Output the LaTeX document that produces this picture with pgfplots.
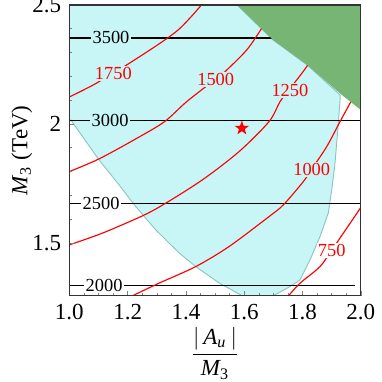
\documentclass[border=0pt]{standalone}
\usepackage{amsmath}
\usepackage{fontspec}
\setmainfont{Liberation Serif}
\usepackage{pgfplots}
\pgfplotsset{compat=1.18}

\definecolor{cyanfill}{RGB}{200,246,246}
\definecolor{cyanedge}{RGB}{140,196,196}
\definecolor{greenfill}{RGB}{119,181,116}

% filled five-pointed star
\pgfdeclareplotmark{fstar}{%
  \pgfpathmoveto{\pgfpointpolar{90}{\pgfplotmarksize}}%
  \pgfpathlineto{\pgfpointpolar{126}{0.4\pgfplotmarksize}}%
  \pgfpathlineto{\pgfpointpolar{162}{\pgfplotmarksize}}%
  \pgfpathlineto{\pgfpointpolar{198}{0.4\pgfplotmarksize}}%
  \pgfpathlineto{\pgfpointpolar{234}{\pgfplotmarksize}}%
  \pgfpathlineto{\pgfpointpolar{270}{0.4\pgfplotmarksize}}%
  \pgfpathlineto{\pgfpointpolar{306}{\pgfplotmarksize}}%
  \pgfpathlineto{\pgfpointpolar{342}{0.4\pgfplotmarksize}}%
  \pgfpathlineto{\pgfpointpolar{18}{\pgfplotmarksize}}%
  \pgfpathlineto{\pgfpointpolar{54}{0.4\pgfplotmarksize}}%
  \pgfpathclose
  \pgfusepathqfill}

\begin{document}
\begin{tikzpicture}
\begin{axis}[
  scale only axis,
  width=126.7pt, height=126.5pt,
  xmin=1, xmax=2, ymin=1.2773, ymax=2.5,
  xtick={1,1.2,1.4,1.6,1.8,2},
  ytick={1.5,2,2.5},
  minor x tick num=3, minor y tick num=4,
  tick pos=left, tick align=inside,
  major tick length=2.2pt, minor tick length=1.2pt,
  axis on top,
  axis line style={black!80, line width=0.5pt},
  xticklabel style={/pgf/number format/.cd,fixed,fixed zerofill,precision=1},
  /pgf/number format/assume math mode=true,
  xlabel={$\dfrac{|\,\textit{A}_{\textit{u}}\,|}{\textit{M}_{\text{3}}}$},
  ylabel={\textit{M}\textsubscript{3} (TeV)},
  xlabel style={at={(axis description cs:0.5,-0.197)}, anchor=center},
  ylabel style={at={(axis description cs:-0.163,0.5)}, anchor=center},
]
% allowed region
\addplot[fill=cyanfill, draw=cyanedge, line width=0.4pt] coordinates {
 (1.0,2.5) (1.5755,2.5) (1.699,2.353) (1.816,2.248) (1.929,2.1218)
 (1.929,2.1008) (1.9231,2.0042) (1.9118,1.8361) (1.9005,1.7227)
 (1.8888,1.626) (1.8603,1.5265) (1.826,1.4286) (1.7917,1.3445)
 (1.7574,1.3164) (1.699,1.2773) (1.5937,1.2773) (1.5137,1.3319)
 (1.4338,1.4004) (1.3765,1.458) (1.2965,1.5546) (1.2279,1.6525)
 (1.1706,1.7437) (1.1019,1.8487) (1.0048,2.0168) (1.0,2.013)
} -- cycle;

% black horizontal contours
\addplot[black, line width=0.5pt] coordinates {(1.0,2.3613) (1.75,2.3613)};
\addplot[black, line width=0.5pt] coordinates {(1.0,2.0126) (2.0,2.0126)};
\addplot[black, line width=0.5pt] coordinates {(1.0,1.6639) (2.0,1.6639)};
\addplot[black, line width=0.5pt] coordinates {(1.0,1.3193) (1.9804,1.3193)};

% red contours
\addplot[red, line width=0.5pt, smooth] coordinates {
 (1.0,2.113) (1.0824,2.1639) (1.151,2.214) (1.197,2.2479) (1.3113,2.3391)
 (1.3799,2.4021) (1.4485,2.4929) (1.455,2.51)};
\addplot[red, line width=0.5pt, smooth] coordinates {
 (1.0,1.7996) (1.1019,1.8529) (1.225,1.935) (1.325,2.008) (1.4029,2.0937)
 (1.5024,2.189) (1.5343,2.2197) (1.6088,2.3109) (1.6603,2.4021) (1.69,2.46)};
\addplot[red, line width=0.5pt, smooth] coordinates {
 (1.0,1.4916) (1.1132,1.5408) (1.2505,1.6134) (1.325,1.6626) (1.4564,1.7647)
 (1.5824,1.8836) (1.6853,2.0097) (1.7231,2.0937) (1.7574,2.1488)
 (1.8147,2.2408) (1.84,2.3)};
\addplot[red, line width=0.5pt, smooth] coordinates {
 (1.2162,1.2773) (1.3078,1.3307) (1.4338,1.4004) (1.548,1.4845)
 (1.6853,1.6105) (1.7344,1.6597) (1.803,1.7576) (1.8318,1.8104)
 (1.8833,1.9046) (1.929,2.0097) (1.9633,2.087) (1.99,2.15)};
\addplot[red, line width=0.5pt, smooth] coordinates {
 (1.752,1.2773) (1.7917,1.3307) (1.8603,1.4004) (1.9005,1.4703)
 (1.9176,1.5) (1.9907,1.6315) (2.0,1.65)};

% contour labels
\begin{scope}[every node/.style={font=\footnotesize, inner sep=0.6pt}]
\node[fill=cyanfill] at (axis cs:1.1431,2.3613) {3500};
\node[fill=cyanfill] at (axis cs:1.1397,2.0126) {3000};
\node[fill=white] at (axis cs:1.1088,1.6639) {2500};
\node[fill=white] at (axis cs:1.1191,1.3193) {2000};
\node[fill=cyanfill, text=red] at (axis cs:1.151,2.212) {1750};
\node[fill=cyanfill, text=red] at (axis cs:1.5024,2.187) {1500};
\node[fill=cyanfill, text=red] at (axis cs:1.757,2.142) {1250};
\node[fill=cyanfill, text=red] at (axis cs:1.8318,1.809) {1000};
\node[fill=white, text=red] at (axis cs:1.9005,1.468) {750};
\end{scope}

% excluded corner
\addplot[fill=greenfill, draw=none] coordinates {
 (1.5755,2.5) (1.699,2.353) (1.816,2.248) (1.935,2.1218) (2.0,2.0588) (2.0,2.5)
} -- cycle;

% benchmark point
\addplot[only marks, mark=fstar, mark size=3.3pt, red] coordinates {(1.592,1.982)};

\coordinate (bbsw) at (rel axis cs:-0.238,-0.296);
\coordinate (bbne) at (rel axis cs:1.073,1.017);
\end{axis}
\pgfresetboundingbox
\path (bbsw) rectangle (bbne);
\end{tikzpicture}
\end{document}
